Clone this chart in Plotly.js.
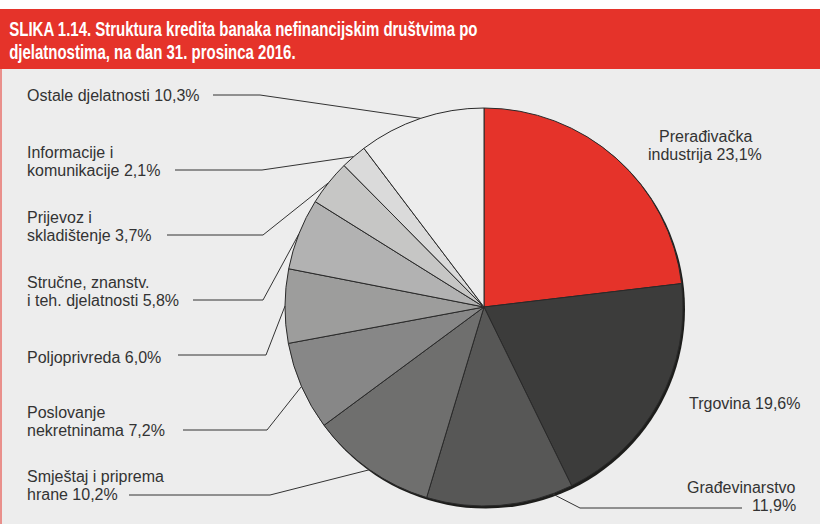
<!DOCTYPE html>
<html>
<head>
<meta charset="utf-8">
<script src="https://cdn.plot.ly/plotly-3.0.1.min.js"></script>
<style>html,body{margin:0;padding:0;background:#fff;}#chart{width:820px;height:524px;}</style>
</head>
<body>
<div id="chart"></div>
<script>
// ---- data ----
const categories = ["Prerađivačka industrija","Trgovina","Građevinarstvo","Smještaj i priprema hrane","Poslovanje nekretninama","Poljoprivreda","Stručne, znanstv. i teh. djelatnosti","Prijevoz i skladištenje","Informacije i komunikacije","Ostale djelatnosti"];
const values = [23.1, 19.6, 11.9, 10.2, 7.2, 6.0, 5.8, 3.7, 2.1, 10.3];
const labelLines = [
  ["Prerađivačka", "industrija {v}"],
  ["Trgovina {v}"],
  ["Građevinarstvo", "{v}"],
  ["Smještaj i priprema", "hrane {v}"],
  ["Poslovanje", "nekretninama {v}"],
  ["Poljoprivreda {v}"],
  ["Stručne, znanstv.", "i teh. djelatnosti {v}"],
  ["Prijevoz i", "skladištenje {v}"],
  ["Informacije i", "komunikacije {v}"],
  ["Ostale djelatnosti {v}"]
];
const titleLines = ["SLIKA 1.14. Struktura kredita banaka nefinancijskim društvima po", "djelatnostima, na dan 31. prosinca 2016."];
const colors = ["#E5332A","#3C3C3B","#575756","#6F6F6E","#878787","#9D9D9C","#B2B2B2","#C6C6C5","#DADADA","#EDEDED"];

// ---- layout config (pixels) ----
const W = 820, H = 524;
const cx = 484, cy = 307, R = 199;
const lineH = 18.5;
const titleSize = 20, titleScaleX = 0.75, titleY0 = 29, titleLineH = 23;
const labelPos = [
  {x:705, y:136, anchor:'center'},
  {x:687, y:403, anchor:'left'},
  {x:798, y:487, anchor:'right', lineFrom:742, elbowX:580, lineY:508, frac:0.14},
  {x:25, y:476, anchor:'left', lineFrom:129, elbowX:270, lineY:495},
  {x:25, y:412, anchor:'left', lineFrom:183, elbowX:267, lineY:430},
  {x:25, y:357, anchor:'left', lineFrom:178, elbowX:266, lineY:355},
  {x:25, y:282, anchor:'left', lineFrom:193, elbowX:263, lineY:300},
  {x:25, y:217, anchor:'left', lineFrom:167, elbowX:263, lineY:235},
  {x:25, y:152, anchor:'left', lineFrom:175, elbowX:262, lineY:170},
  {x:25, y:95,  anchor:'left', lineFrom:213, elbowX:260, lineY:95}
];

const X = p => p / W;
const Y = p => 1 - p / H;
const fmt = v => v.toFixed(1).replace('.', ',') + '%';
const textFont = {family:'"Liberation Sans", Arial, sans-serif', size:16, color:'#333333'};

const annotations = [];
const shapes = [
  {type:'rect', xref:'paper', yref:'paper', x0:0, x1:1, y0:0, y1:Y(69), fillcolor:'#EDEDED', line:{width:0}, layer:'below'},
  {type:'rect', xref:'paper', yref:'paper', x0:0, x1:1, y0:Y(69), y1:Y(9), fillcolor:'#E5332A', line:{width:0}, layer:'below'},
  {type:'line', xref:'paper', yref:'paper', x0:X(1), x1:X(1), y0:0, y1:Y(69), line:{color:'#E5332A', width:1}, layer:'below'},
  {type:'circle', xref:'paper', yref:'paper', x0:X(cx-R+1.5), x1:X(cx+R+2), y0:Y(cy+R+2.5), y1:Y(cy-R+1.5), fillcolor:'#1D1D1B', line:{width:0}, layer:'below'}
];

// title
titleLines.forEach((t, i) => {
  annotations.push({xref:'paper', yref:'paper', x:X(8), y:Y(titleY0 + i*titleLineH), xanchor:'left', yanchor:'middle', showarrow:false,
    borderpad:0, text:t, font:{family:'"Liberation Sans", Arial, sans-serif', size:titleSize, color:'#ffffff', weight:'bold'}});
});

// labels and leader lines
const total = values.reduce((a,b)=>a+b, 0);
let cum = 0;
values.forEach((v, i) => {
  const p = labelPos[i];
  labelLines[i].forEach((ln, j) => {
    annotations.push({xref:'paper', yref:'paper', x:X(p.x), y:Y(p.y + j*lineH), xanchor:p.anchor, yanchor:'middle',
      showarrow:false, text:ln.replace('{v}', fmt(v)), font:textFont});
  });
  if (p.lineFrom !== undefined) {
    const frac = p.frac !== undefined ? p.frac : 0.5;
    const th = (cum + frac * v) / total * 2 * Math.PI;
    const ax = cx + R * Math.sin(th), ay = cy - R * Math.cos(th);
    shapes.push({type:'path', xref:'paper', yref:'paper',
      path:`M ${X(p.lineFrom)} ${Y(p.lineY)} L ${X(p.elbowX)} ${Y(p.lineY)} L ${X(ax)} ${Y(ay)}`,
      line:{color:'#333333', width:1}});
  }
  cum += v;
});

const trace = {
  type:'pie', labels:categories, values:values, sort:false, direction:'clockwise', rotation:0,
  marker:{colors:colors, line:{color:'#2a2a2a', width:1}},
  textinfo:'none', hoverinfo:'label+value', showlegend:false,
  domain:{x:[X(cx-R), X(cx+R)], y:[Y(cy+R), Y(cy-R)]}
};

const layout = {
  width:W, height:H, margin:{l:0, r:0, t:0, b:0},
  paper_bgcolor:'#ffffff', plot_bgcolor:'rgba(0,0,0,0)',
  showlegend:false, shapes:shapes, annotations:annotations
};

function condenseTitle() {
  titleLines.forEach((t, i) => {
    const g = document.querySelector('#chart .annotation[data-index="' + i + '"] text.annotation-text');
    if (!g) return;
    const bb = g.getBBox();
    g.setAttribute('transform', `translate(${bb.x * (1 - titleScaleX)},0) scale(${titleScaleX},1)`);
  });
}
Plotly.newPlot('chart', [trace], layout, {displayModeBar:false, staticPlot:true}).then(condenseTitle);
</script>
</body>
</html>
